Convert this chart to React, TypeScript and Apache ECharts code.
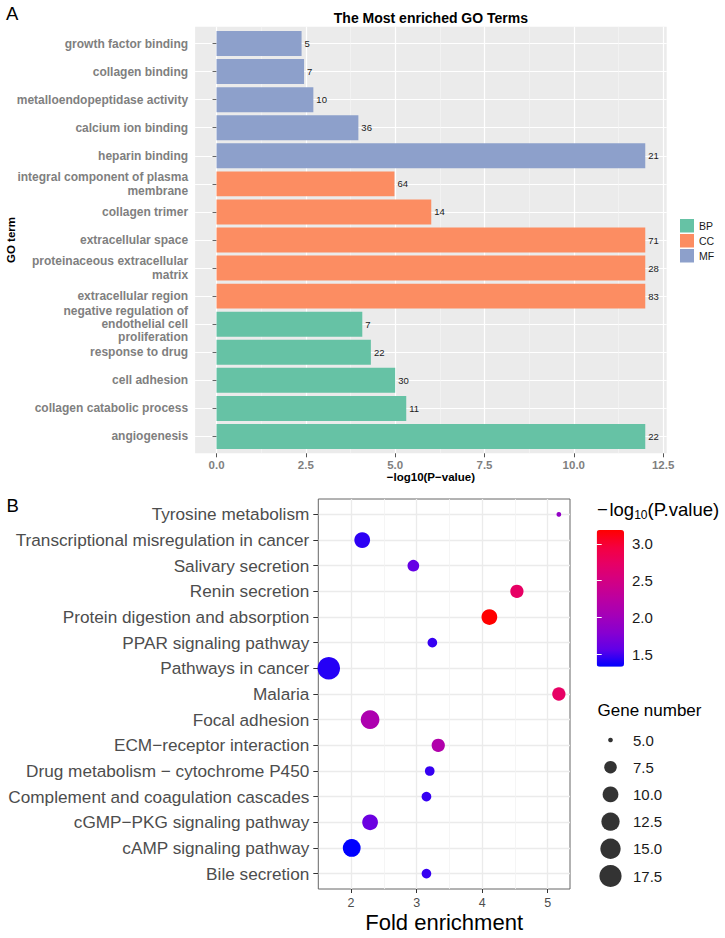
import React, { useEffect, useRef } from "react";
import * as echarts from "echarts";

// ---------- Panel A data (top to bottom) ----------
const GO_TERMS = [
  "growth factor binding",
  "collagen binding",
  "metalloendopeptidase activity",
  "calcium ion binding",
  "heparin binding",
  "integral component of plasma\nmembrane",
  "collagen trimer",
  "extracellular space",
  "proteinaceous extracellular\nmatrix",
  "extracellular region",
  "negative regulation of\nendothelial cell\nproliferation",
  "response to drug",
  "cell adhesion",
  "collagen catabolic process",
  "angiogenesis",
];
const GO_CLASS = ["MF", "MF", "MF", "MF", "MF", "CC", "CC", "CC", "CC", "CC", "BP", "BP", "BP", "BP", "BP"];
const GO_LOGP = [2.38, 2.45, 2.71, 3.97, 12.0, 4.98, 6.01, 12.0, 12.0, 12.0, 4.08, 4.32, 5.0, 5.31, 12.0];
const GO_GENES = [5, 7, 10, 36, 21, 64, 14, 71, 28, 83, 7, 22, 30, 11, 22];
const GO_CLASSES = ["BP", "CC", "MF"];
const GO_CLASS_COLORS = ["#66C2A5", "#FC8D62", "#8DA0CB"];
const GO_TICKS = [0, 2.5, 5, 7.5, 10, 12.5];
const GO_MINOR = [1.25, 3.75, 6.25, 8.75, 11.25];

// ---------- Panel B data (top to bottom) ----------
const KEGG_TERMS = [
  "Tyrosine metabolism",
  "Transcriptional misregulation in cancer",
  "Salivary secretion",
  "Renin secretion",
  "Protein digestion and absorption",
  "PPAR signaling pathway",
  "Pathways in cancer",
  "Malaria",
  "Focal adhesion",
  "ECM\u2212receptor interaction",
  "Drug metabolism \u2212 cytochrome P450",
  "Complement and coagulation cascades",
  "cGMP\u2212PKG signaling pathway",
  "cAMP signaling pathway",
  "Bile secretion",
];
const KEGG_FOLD = [5.17, 2.17, 2.95, 4.53, 4.11, 3.24, 1.66, 5.17, 2.29, 3.33, 3.2, 3.15, 2.29, 2.01, 3.15];
const KEGG_LOGP = [1.89, 1.44, 1.59, 2.74, 3.19, 1.46, 1.42, 2.74, 2.11, 2.15, 1.46, 1.46, 1.63, 1.33, 1.46];
const KEGG_GENES = [5, 10, 7, 8, 10, 6, 18, 8, 13, 8, 6, 6, 10, 12, 6];
const KEGG_TICKS = [2, 3, 4, 5];
const KEGG_MINOR = [2.5, 3.5, 4.5];
const SIZE_BREAKS = [5, 7.5, 10, 12.5, 15, 17.5];
const CB_TICKS = [1.5, 2, 2.5, 3];
const CB_MIN = 1.33;
const CB_MAX = 3.19;
const CB_COLORS = ["#0000FF", "#6000E8", "#8800D0", "#A400B8", "#BC00A0", "#D20084", "#E60066", "#F50040", "#FF0000"];

// ---------- Layout ----------
const W = 725;
const H = 938;
const FONT = "'Liberation Sans', Arial, Helvetica, sans-serif";

const A_LEFT = 195.1, A_RIGHT = 666.7, A_TOP = 26.7, A_BOTTOM = 453.3;
const A_XMIN = -0.6, A_XMAX = 12.6;
const A_ROW = (A_BOTTOM - A_TOP) / (GO_TERMS.length - 1 + 1.2);

const B_LEFT = 318.3, B_RIGHT = 570, B_TOP = 499, B_BOTTOM = 889;
const B_XMIN = 1.5, B_XMAX = 5.34;
const B_ROW = (B_BOTTOM - B_TOP) / (KEGG_TERMS.length - 1 + 1.2);

const sizeOf = (g: number) => 4.7 + 4.95 * Math.sqrt(Math.max(0, g - 5));

function buildOption(): any {
  const grid = [
    { left: A_LEFT, top: A_TOP, width: A_RIGHT - A_LEFT, height: A_BOTTOM - A_TOP, show: true, backgroundColor: "#EBEBEB", borderWidth: 0 },
    { left: A_LEFT, top: A_TOP + 0.6 * A_ROW, width: A_RIGHT - A_LEFT, height: (GO_TERMS.length - 1) * A_ROW },
    { left: B_LEFT, top: B_TOP, width: B_RIGHT - B_LEFT, height: B_BOTTOM - B_TOP, show: true, backgroundColor: "#FFFFFF", borderColor: "#666666", borderWidth: 1 },
    { left: B_LEFT, top: B_TOP + 0.6 * B_ROW, width: B_RIGHT - B_LEFT, height: (KEGG_TERMS.length - 1) * B_ROW },
    { left: 598, top: 740, width: 25, height: 136 },
    { left: 596.7, top: 530, width: 27.3, height: 136.7 },
  ];

  const xAxis = [
    {
      gridIndex: 0, type: "value", min: A_XMIN, max: A_XMAX,
      axisLine: { show: false },
      axisTick: { show: true, length: 4, lineStyle: { color: "#555" }, customValues: GO_TICKS },
      axisLabel: { customValues: GO_TICKS, formatter: (v: number) => v.toFixed(1), color: "#7F7F7F", fontWeight: "bold", fontSize: 11.5, margin: 6 },
      splitLine: { show: true, lineStyle: { color: "#FFFFFF", width: 1.2 } },
    },
    {
      gridIndex: 0, type: "value", min: A_XMIN, max: A_XMAX,
      axisLine: { show: false },
      axisTick: { show: false, customValues: GO_MINOR },
      axisLabel: { show: false, customValues: GO_MINOR },
      splitLine: { show: true, lineStyle: { color: "#F7F7F7", width: 0.6 } },
    },
    { gridIndex: 1, type: "value", min: A_XMIN, max: A_XMAX, show: false },
    {
      gridIndex: 2, type: "value", min: B_XMIN, max: B_XMAX,
      axisLine: { show: false },
      axisTick: { show: true, length: 4, lineStyle: { color: "#333" }, customValues: KEGG_TICKS },
      axisLabel: { customValues: KEGG_TICKS, formatter: (v: number) => String(v), color: "#4D4D4D", fontSize: 12.5, margin: 7 },
      splitLine: { show: true, lineStyle: { color: "#EBEBEB", width: 1.3 } },
    },
    {
      gridIndex: 2, type: "value", min: B_XMIN, max: B_XMAX,
      axisLine: { show: false },
      axisTick: { show: false, customValues: KEGG_MINOR },
      axisLabel: { show: false, customValues: KEGG_MINOR },
      splitLine: { show: true, lineStyle: { color: "#F2F2F2", width: 0.8 } },
    },
    { gridIndex: 3, type: "value", min: B_XMIN, max: B_XMAX, show: false },
    { gridIndex: 4, type: "value", min: -1, max: 1, show: false },
    { gridIndex: 5, type: "value", min: 0, max: 1, show: false },
  ];

  const yAxis = [
    { gridIndex: 0, type: "value", show: false },
    {
      gridIndex: 1, type: "category", data: GO_TERMS, inverse: true, boundaryGap: false,
      axisLine: { show: false },
      axisTick: { show: true, length: 4, interval: 0, lineStyle: { color: "#666" } },
      axisLabel: { interval: 0, color: "#7F7F7F", fontWeight: "bold", fontSize: 12, lineHeight: 13.3, margin: 7 },
      splitLine: { show: true, interval: 0, lineStyle: { color: "#FFFFFF", width: 1.2 } },
    },
    { gridIndex: 2, type: "value", show: false },
    {
      gridIndex: 3, type: "category", data: KEGG_TERMS, inverse: true, boundaryGap: false,
      axisLine: { show: false },
      axisTick: { show: true, length: 5, interval: 0, lineStyle: { color: "#333" } },
      axisLabel: { interval: 0, color: "#4D4D4D", fontSize: 17.2, margin: 9 },
      splitLine: { show: true, interval: 0, lineStyle: { color: "#EBEBEB", width: 1.3 } },
    },
    {
      gridIndex: 4, type: "category", data: SIZE_BREAKS.map((v) => v.toFixed(1)), inverse: true, boundaryGap: false, position: "right",
      axisLine: { show: false }, axisTick: { show: false }, splitLine: { show: false },
      axisLabel: { interval: 0, color: "#1A1A1A", fontSize: 15, margin: 10 },
    },
    {
      gridIndex: 5, type: "value", min: CB_MIN, max: CB_MAX, position: "right", z: 10,
      axisLine: { show: false }, splitLine: { show: false },
      axisTick: { show: true, inside: true, length: 5, lineStyle: { color: "#FFFFFF", width: 1 }, customValues: CB_TICKS },
      axisLabel: { customValues: CB_TICKS, formatter: (v: number) => v.toFixed(1), color: "#1A1A1A", fontSize: 15, margin: 8 },
    },
    {
      gridIndex: 5, type: "value", min: CB_MIN, max: CB_MAX, position: "left", z: 10,
      axisLine: { show: false }, splitLine: { show: false },
      axisTick: { show: true, inside: true, length: 5, lineStyle: { color: "#FFFFFF", width: 1 }, customValues: CB_TICKS },
      axisLabel: { show: false, customValues: CB_TICKS },
    },
  ];

  const barSeries = GO_CLASSES.map((cls, ci) => ({
    type: "bar",
    name: cls,
    xAxisIndex: 2,
    yAxisIndex: 1,
    stack: "go",
    barWidth: "89%",
    clip: false,
    itemStyle: { color: GO_CLASS_COLORS[ci] },
    data: GO_TERMS.map((_, i) => (GO_CLASS[i] === cls ? { value: GO_LOGP[i], genes: GO_GENES[i] } : null)),
    label: {
      show: true,
      position: "right",
      distance: 3,
      fontSize: 9.5,
      color: "#1A1A1A",
      formatter: (p: any) => (p.data ? String(p.data.genes) : ""),
    },
  }));

  const keggSeries = {
    type: "scatter",
    name: "kegg",
    xAxisIndex: 5,
    yAxisIndex: 3,
    clip: false,
    data: KEGG_TERMS.map((t, i) => [KEGG_FOLD[i], t, KEGG_LOGP[i], KEGG_GENES[i]]),
    encode: { x: 0, y: 1 },
    symbolSize: (v: any) => sizeOf(v[3]),
    itemStyle: { opacity: 1 },
  };

  const sizeSeries = {
    type: "scatter",
    name: "size",
    xAxisIndex: 6,
    yAxisIndex: 4,
    clip: false,
    silent: true,
    data: SIZE_BREAKS.map((v, i) => [0, i, v]),
    encode: { x: 0, y: 1 },
    symbolSize: (v: any) => sizeOf(v[2]),
    itemStyle: { color: "#000000" },
  };

  const txt = (x: number, y: number, text: string, size: number, extra: any = {}) => ({
    type: "text",
    x,
    y,
    rotation: extra.rotation || 0,
    style: {
      text,
      fill: extra.fill || "#000000",
      fontSize: size,
      fontWeight: extra.bold ? "bold" : "normal",
      fontFamily: FONT,
      align: extra.align || "left",
      verticalAlign: "middle",
      textAlign: extra.align || "left",
      textVerticalAlign: "middle",
      rich: extra.rich,
    },
  });

  return {
    animation: false,
    backgroundColor: "#FFFFFF",
    textStyle: { fontFamily: FONT },
    grid,
    xAxis,
    yAxis,
    legend: {
      data: GO_CLASSES,
      orient: "vertical",
      left: 680,
      top: 219,
      padding: 0,
      itemWidth: 14,
      itemHeight: 13.5,
      itemGap: 1.5,
      icon: "rect",
      selectedMode: false,
      textStyle: { fontSize: 10.5, color: "#1A1A1A", fontFamily: FONT },
    },
    visualMap: [
      {
        type: "continuous",
        seriesIndex: 3,
        dimension: 2,
        min: CB_MIN,
        max: CB_MAX,
        left: 596.7,
        top: 530,
        itemWidth: 27.3,
        itemHeight: 136.7,
        padding: 0,
        calculable: false,
        hoverLink: false,
        inRange: { color: CB_COLORS },
      },
    ],
    series: [...barSeries, keggSeries, sizeSeries],
    graphic: [
      txt(6, 13.5, "A", 18.5),
      txt(6.5, 505, "B", 18.5),
      txt((A_LEFT + A_RIGHT) / 2, 17.5, "The Most enriched GO Terms", 14, { bold: true, align: "center" }),
      txt((A_LEFT + A_RIGHT) / 2, 476.5, "\u2212log10(P\u2212value)", 11.5, { bold: true, align: "center" }),
      txt(11, 240, "GO term", 11.5, { bold: true, align: "center", rotation: Math.PI / 2 }),
      txt((B_LEFT + B_RIGHT) / 2, 922, "Fold enrichment", 22, { align: "center" }),
      txt(597, 509, "{a|\u2212}{g| }{a|log}{s|10}{a|(P.value)}", 18.5, {
        rich: {
          a: { fontSize: 18.5, lineHeight: 23, fontFamily: FONT, fill: "#000" },
          g: { fontSize: 6, lineHeight: 6, fontFamily: FONT, fill: "#000" },
          s: { fontSize: 12, lineHeight: 12, verticalAlign: "bottom", fontFamily: FONT, fill: "#000" },
        },
      }),
      txt(597.5, 710, "Gene number", 17),
    ],
  };
}

export default function App() {
  const ref = useRef<HTMLDivElement>(null);
  useEffect(() => {
    if (!ref.current) return;
    const chart = echarts.init(ref.current, null, { renderer: "svg" });
    chart.setOption(buildOption());
    return () => chart.dispose();
  }, []);
  return (
    <div
      ref={ref}
      style={{ position: "fixed", left: 0, top: 0, width: W, height: H, background: "#FFFFFF" }}
    />
  );
}
